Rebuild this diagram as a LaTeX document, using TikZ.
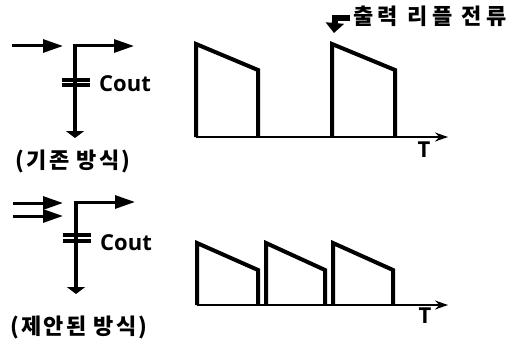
\documentclass[tikz,border=0pt]{standalone}
\usepackage{fontspec}
\setmainfont{Open Sans}
\newfontfamily\krfont[LetterSpace=10]{Noto Sans CJK KR}
\newfontfamily\krwide[LetterSpace=20]{Noto Sans CJK KR}
\usetikzlibrary{arrows.meta}
\tikzset{
  flow/.style={line width=3pt,-{Triangle[length=20pt,width=13pt]}},
  groundtip/.style={line width=4pt,-{Triangle[length=7pt,width=18pt]}},
  plate/.style={line width=3.2pt},
  wave/.style={line width=4pt,line join=miter},
  axisline/.style={line width=1.6pt,-{Stealth[length=13pt,width=9pt]}},
  lab/.style={inner sep=0pt,font=\fontsize{22}{22}\selectfont\bfseries},
  krlab/.style={inner sep=0pt,font=\krfont\fontsize{22}{22}\selectfont\bfseries},
  krwidelab/.style={inner sep=0pt,font=\krwide\fontsize{22}{22}\selectfont\bfseries},
}
\begin{document}
\begin{tikzpicture}[x=1pt,y=-1pt]
\useasboundingbox (0,0) rectangle (519,345);
% top circuit
\coordinate (a1s) at (12,46); \coordinate (a1e) at (63,46);
\draw[flow] (a1s) -- (a1e);
\coordinate (c1) at (75,46); \coordinate (o1) at (134,46);
\coordinate (g1) at (75,138);
\draw[flow] ([xshift=-2pt]c1) -- (o1);
\draw[groundtip] ([yshift=-1.5pt]c1) -- (g1);
\coordinate (p1a) at (62,80); \coordinate (p1b) at (90,80);
\coordinate (p1c) at (62,85); \coordinate (p1d) at (90,85);
\draw[plate] (p1a) -- (p1b);
\draw[plate] (p1c) -- (p1d);
\node[lab,anchor=west] (cout1) at (99,84) {Cout};
\node[krlab] (cap1) at (73,161) {(기존 방식)};
% top waveform
\coordinate (b1) at (196,137); \coordinate (t1) at (196,44);
\coordinate (e1) at (258,70); \coordinate (f1) at (258,137);
\coordinate (b2) at (332,137); \coordinate (t2) at (332,44);
\coordinate (e2) at (395,70); \coordinate (f2) at (395,137);
\coordinate (x1) at (448,137);
\draw[axisline] (b1) -- (x1);
\draw[wave] (b1) -- (t1) -- (e1) -- (f1);
\draw[wave] (b2) -- (t2) -- (e2) -- (f2);
\node[lab,anchor=center] (T1) at (424,150) {T};
% ripple label
\node[krwidelab,anchor=west] (rip) at (353,16) {출력 리플 전류};
\coordinate (r0) at (350,18);
\coordinate (r1) at (335,18);
\coordinate (r2) at (334,33);
\draw[line width=6pt] (r0) -- ([xshift=-3pt]r1);
\draw[line width=6pt,-{Triangle[length=10pt,width=18pt]}] ([yshift=-3pt]r1) -- (r2);
% bottom circuit
\coordinate (a2s) at (13,203); \coordinate (a2e) at (63,203);
\coordinate (a3s) at (13,216); \coordinate (a3e) at (63,216);
\draw[flow] (a2s) -- (a2e);
\draw[flow] (a3s) -- (a3e);
\coordinate (c2) at (76,202); \coordinate (o2) at (135,202);
\coordinate (g2) at (76,294);
\draw[flow] ([xshift=-2pt]c2) -- (o2);
\draw[groundtip] ([yshift=-1.5pt]c2) -- (g2);
\coordinate (p2a) at (63,235); \coordinate (p2b) at (91,235);
\coordinate (p2c) at (63,241); \coordinate (p2d) at (91,241);
\draw[plate] (p2a) -- (p2b);
\draw[plate] (p2c) -- (p2d);
\node[lab,anchor=west] (cout2) at (100,243) {Cout};
\node[krlab] (cap2) at (79,327) {(제안된 방식)};
% bottom waveform
\coordinate (b3) at (197,305); \coordinate (t3) at (197,243);
\coordinate (e3) at (258,270); \coordinate (f3) at (258,305);
\coordinate (b4) at (266,305); \coordinate (t4) at (266,243);
\coordinate (e4) at (325,270); \coordinate (f4) at (325,305);
\coordinate (b5) at (333,305); \coordinate (t5) at (333,243);
\coordinate (e5) at (393,270); \coordinate (f5) at (393,305);
\coordinate (x2) at (448,305);
\draw[axisline] (b3) -- (x2);
\draw[wave] (b3) -- (t3) -- (e3) -- (f3);
\draw[wave] (b4) -- (t4) -- (e4) -- (f4);
\draw[wave] (b5) -- (t5) -- (e5) -- (f5);
\node[lab,anchor=center] (T2) at (425,316) {T};
\end{tikzpicture}
\end{document}
